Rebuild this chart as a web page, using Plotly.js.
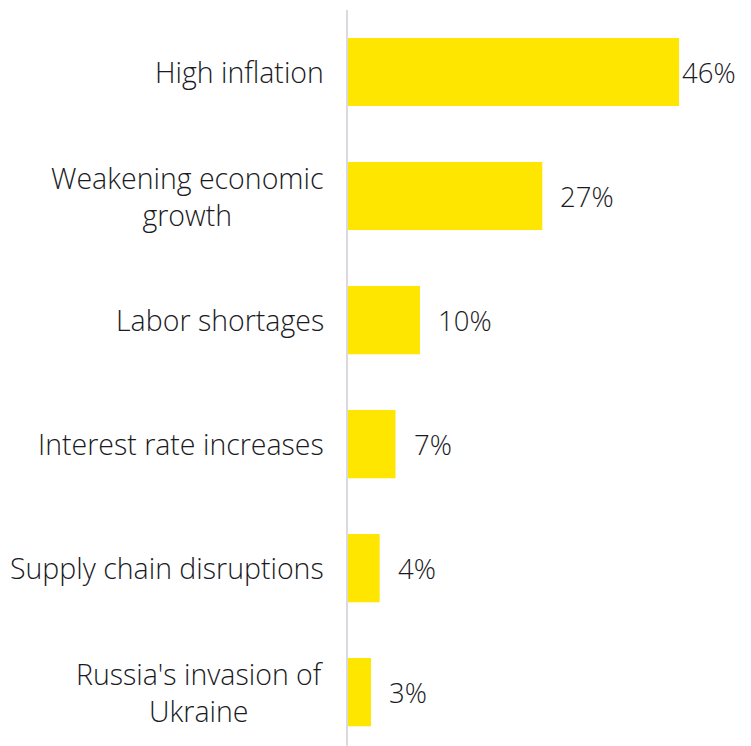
<!DOCTYPE html>
<html>
<head>
<meta charset="utf-8">
<script src="https://cdn.plot.ly/plotly-3.0.1.min.js"></script>
<style>html,body{margin:0;padding:0;background:#fff;}#chart{width:751px;height:746px;}</style>
</head>
<body>
<div id="chart"></div>
<script>
const categories = [
  "High inflation",
  "Weakening economic<br>growth",
  "Labor shortages",
  "Interest rate increases",
  "Supply chain disruptions",
  "Russia's invasion of<br>Ukraine"
];
const values = [46, 27, 10, 6.6, 4.4, 3.2];
const valueLabels = ["46%", "27%", "10%", "7%", "4%", "3%"];

const FONT = {family: "Open Sans, DejaVu Sans, sans-serif", size: 28.5, color: "#1a1a24", weight: 350};
const VFONT = {family: "Open Sans, DejaVu Sans, sans-serif", size: 27.5, color: "#1a1a24", weight: 350};
const maxVal = Math.max(...values);

const trace = {
  type: "bar",
  orientation: "h",
  y: categories,
  x: values,
  marker: {color: "#FFE600", line: {width: 0}},
  hoverinfo: "skip"
};

const annotations = [];
categories.forEach((c, i) => {
  annotations.push({
    xref: "paper", yref: "y", x: 0, y: c,
    text: c, showarrow: false, xanchor: "right", yanchor: "middle",
    align: "center", xshift: -22, font: FONT
  });
  annotations.push({
    xref: "x", yref: "y", x: values[i], y: c,
    text: valueLabels[i], showarrow: false, xanchor: "left", yanchor: "middle",
    xshift: values[i] === maxVal ? 1 : 16, font: VFONT
  });
});

const layout = {
  width: 751, height: 746,
  margin: {l: 348, r: 0, t: 10, b: 0},
  paper_bgcolor: "#ffffff", plot_bgcolor: "#ffffff",
  showlegend: false,
  bargap: 0.45,
  xaxis: {range: [0, 56], showgrid: false, zeroline: false, showticklabels: false, showline: false, fixedrange: true},
  yaxis: {type: "category", range: [5.435, -0.5], showgrid: false, zeroline: false, showticklabels: false,
          showline: true, linecolor: "#d9d9df", linewidth: 2, fixedrange: true},
  annotations: annotations,
  font: FONT
};

Plotly.newPlot("chart", [trace], layout, {displayModeBar: false, staticPlot: true});
</script>
</body>
</html>
